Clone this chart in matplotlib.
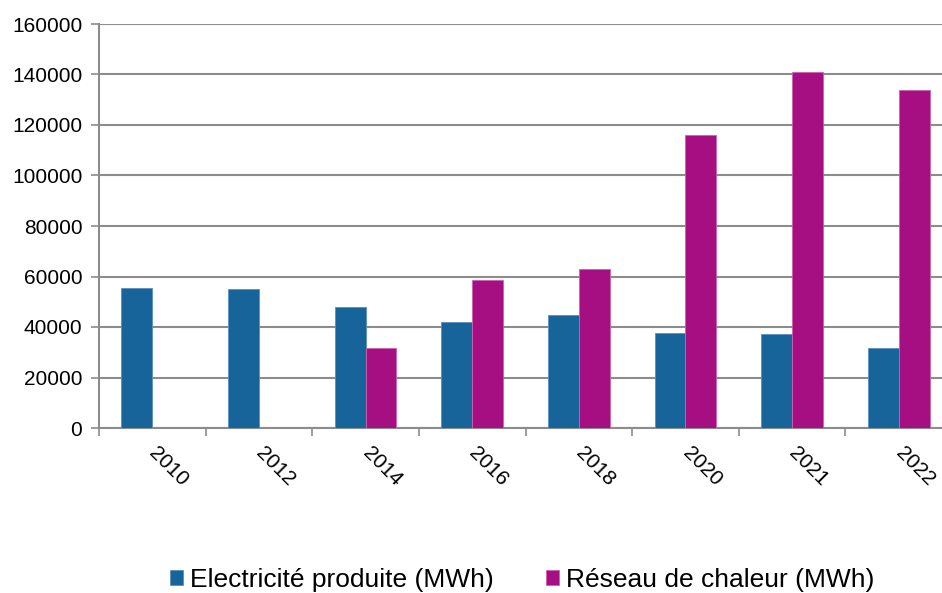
import matplotlib.pyplot as plt
import numpy as np

# Data
years = ["2010", "2012", "2014", "2016", "2018", "2020", "2021", "2022"]
electricite = [55300, 55000, 47900, 42000, 44700, 37600, 37200, 31700]
reseau = [0, 0, 31800, 58500, 63000, 115900, 141100, 133700]
yticks = [0, 20000, 40000, 60000, 80000, 100000, 120000, 140000, 160000]

blue = "#16649A"
magenta = "#A50F81"
grey = "#8C8C8C"

plt.rcParams["font.family"] = ["Liberation Sans", "DejaVu Sans"]

fig = plt.figure(figsize=(9.42, 5.93), dpi=100)
ax = fig.add_axes([99 / 942, 1 - 428 / 593, (952 - 99) / 942, (428 - 24) / 593])

x = np.arange(len(years))
w = 0.29
ax.bar(x - w / 2, electricite, w, color=blue, edgecolor="#5A8FBF", linewidth=0.6,
       label="Electricité produite (MWh)", zorder=3)
ax.bar(x + w / 2, reseau, w, color=magenta, edgecolor="#D060B0", linewidth=0.6,
       label="Réseau de chaleur (MWh)", zorder=3)

ax.set_ylim(0, 160000)
ax.set_xlim(-0.5, len(years) - 0.5)
ax.set_yticks(yticks)
ax.set_yticklabels([str(v) for v in yticks], fontsize=15)
ax.yaxis.grid(True, color=grey, linewidth=1.5, zorder=0)

# tick marks between categories, labels under each category
ax.set_xticks(np.arange(len(years) + 1) - 0.5)
ax.set_xticklabels([])
ax.set_xticks(x, minor=True)
ax.set_xticklabels(years, minor=True, fontsize=15, rotation=-45, ha="left",
                   va="center", rotation_mode="anchor")
ax.tick_params(axis="x", which="minor", length=0, pad=16)
ax.tick_params(axis="x", which="major", length=6, color=grey, width=1.2)
ax.tick_params(axis="y", length=6, color=grey, width=1.2, pad=6)

for s in ["top", "right"]:
    ax.spines[s].set_visible(False)
for s in ["left", "bottom"]:
    ax.spines[s].set_color(grey)
    ax.spines[s].set_linewidth(1.5)

fig.legend(loc="center", bbox_to_anchor=(522 / 942, 1 - 580 / 593), ncol=2,
           frameon=False, fontsize=19, handlelength=0.5, handleheight=0.5,
           handletextpad=0.25, columnspacing=2.0)

fig.savefig("out.png", dpi=100)
